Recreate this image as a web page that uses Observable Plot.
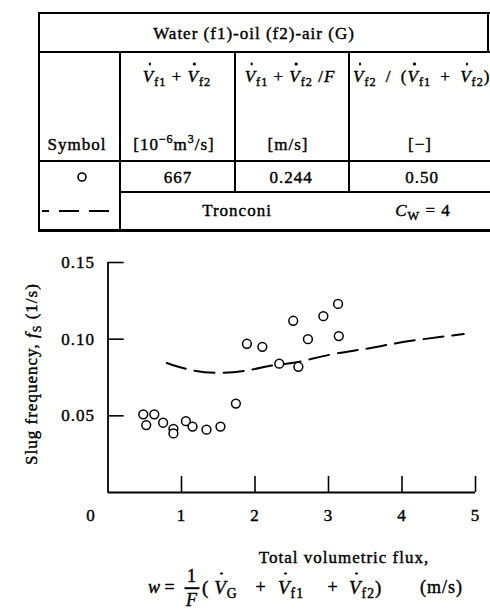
<!DOCTYPE html>
<html><head><meta charset="utf-8">
<script src="https://cdn.jsdelivr.net/npm/d3@7"></script>
<script src="https://cdn.jsdelivr.net/npm/@observablehq/plot@0.6"></script>
<style>
html,body{margin:0;padding:0;background:#fff;}
#wrap{position:relative;width:490px;height:611px;overflow:hidden;font-family:"Liberation Serif","Times New Roman",serif;color:#000;font-size:17px;}
.t{position:absolute;white-space:nowrap;transform:translate(-50%,-50%);line-height:1;letter-spacing:1px;-webkit-text-stroke:0.4px #000;}
.t.left{transform:translate(0,-50%);}
.t.wide{word-spacing:4px;}
.t.f{font-size:18px;}
.t.fv{font-size:19px;}
.l{position:absolute;background:#000;}
.v{position:relative;font-style:italic;}
.v::before{content:"";position:absolute;left:50%;top:-0.22em;width:2.6px;height:2.6px;border-radius:50%;background:#000;}
sub{font-size:0.72em;vertical-align:-0.35em;line-height:0;}
sup{font-size:0.7em;vertical-align:0.55em;line-height:0;}
.frac{display:inline-flex;flex-direction:column;align-items:center;line-height:1;}
.frac .bar{width:15px;height:1.6px;background:#000;margin:2px 0;}
#plot{position:absolute;left:0;top:240px;}
#plot svg text{stroke:#000;stroke-width:0.4px;letter-spacing:1px;}
</style></head><body>
<div id="wrap"><div id="plot"></div></div>
<script>
// ---- data ----
const waterX = [0.48, 0.63, 0.52, 0.75, 0.89, 0.89, 1.06, 1.15, 1.34, 1.53, 1.74, 1.89, 2.10, 2.33, 2.52, 2.59, 2.72, 2.93, 3.13, 3.14];
const waterY = [0.051, 0.051, 0.044, 0.0455, 0.0415, 0.0385, 0.0465, 0.043, 0.041, 0.043, 0.058, 0.097, 0.095, 0.084, 0.112, 0.082, 0.100, 0.115, 0.123, 0.102];
const tronconiX = [0.80, 1.12, 1.53, 1.94, 2.26, 2.57, 3.03, 3.48, 3.88, 4.29, 4.84];
const tronconiY = [0.0845, 0.080, 0.078, 0.080, 0.083, 0.085, 0.090, 0.0935, 0.097, 0.100, 0.1033];
const xTicks = [1, 2, 3, 4, 5];
const xTickLabels = ["1", "2", "3", "4", "5"];
const originLabel = ["0"];
const yTicks = [0.05, 0.10, 0.15];
const yTickLabels = ["0.05", "0.10", "0.15"];
const tableTitle = "Water (f1)-oil (f2)-air (G)";
const rowValues = ["667", "0.244", "0.50"];
const unitLabels = ["[10<sup>\u22126</sup>m<sup>3</sup>/s]", "[m/s]", "[\u2212]"];
const modelName = "Tronconi";
const modelParam = "4";

// ---- helpers ----
const wrap = document.getElementById("wrap");
const V = s => `<span class="v">V</span><sub>${s}</sub>`;
function line(x, y, w, h) {
  const d = document.createElement("div");
  d.className = "l";
  Object.assign(d.style, {left: x + "px", top: y + "px", width: w + "px", height: h + "px"});
  wrap.appendChild(d);
}
function text(html, x, y, cls = "") {
  const d = document.createElement("div");
  d.className = "t " + cls;
  d.innerHTML = html;
  d.style.left = x + "px";
  d.style.top = y + "px";
  wrap.appendChild(d);
  return d;
}

// ---- table ----
line(38, 12, 452, 2);
line(38, 51, 452, 2);
line(38, 160, 452, 2);
line(119, 191, 371, 2);
line(38, 229, 452, 2.5);
line(38, 12, 2, 219.5);
line(487, 12, 2, 41);
line(119, 52, 2, 178);
line(234, 52, 2, 140);
line(348, 52, 2, 140);

text(tableTitle, 254, 33);
text(`${V("f1")} + ${V("f2")}`, 177, 76);
text(`${V("f1")} + ${V("f2")} /<i>F</i>`, 290, 76);
text(`${V("f2")} / (${V("f1")} + ${V("f2")})`, 353, 76, "left wide");
text("Symbol", 77, 144);
text(unitLabels[0], 174, 144);
text(unitLabels[1], 288, 144);
text(unitLabels[2], 420, 144);
text(`<svg width="12" height="12" style="display:block"><circle cx="6" cy="6" r="4" fill="none" stroke="#000" stroke-width="1.6"/></svg>`, 82, 177);
text(rowValues[0], 178, 177);
text(rowValues[1], 291, 177);
text(rowValues[2], 422, 177);
text(`<svg width="72" height="6" style="display:block"><line x1="0" y1="3" x2="72" y2="3" stroke="#000" stroke-width="2" stroke-dasharray="7,10,20,10,20,10"/></svg>`, 78, 211);
text(modelName, 237, 210);
text(`<i>C</i><sub>W</sub> = ${modelParam}`, 423, 210);

// ---- axis titles ----
const yl = text(`Slug frequency, <i>f</i><sub>S</sub> (1/s)`, 31, 374);
yl.style.transform = "translate(-50%,-50%) rotate(-90deg)";
text("Total volumetric flux,", 344, 557);
// formula, laid out piece by piece with the wide spacing of the original
const fy = 587;
text(`<i>w</i>`, 148, fy, "left f");
text(`=`, 170, fy, "f");
text(`<span class="frac"><span>1</span><span class="bar"></span><span><i>F</i></span></span>`, 192, fy + 1, "f");
text(`(&thinsp;${V("G")}`, 202, fy, "left fv");
text(`+`, 261, fy, "f");
text(V("f1"), 278, fy, "left fv");
text(`+`, 333, fy, "f");
text(`${V("f2")})`, 349, fy, "left fv");
text(`(m/s)`, 420, fy, "left f");

// ---- chart ----
const pts = waterX.map((x, i) => ({x, y: waterY[i]}));
const curve = tronconiX.map((x, i) => ({x, y: tronconiY[i]}));
const chart = Plot.plot({
  width: 490, height: 371,
  marginTop: 22, marginBottom: 119, marginLeft: 107.5, marginRight: 15,
  x: {domain: [0, 5]},
  y: {domain: [0, 0.15]},
  style: {fontFamily: "'Liberation Serif', 'Times New Roman', serif", fontSize: "17px", color: "#000", background: "transparent", overflow: "visible"},
  marks: [
    Plot.ruleX([0], {y1: 0, y2: 0.15, strokeWidth: 1.8}),
    Plot.ruleY([0], {x1: 0, x2: 5, strokeWidth: 1.8}),
    Plot.ruleY(yTicks, {x1: 0, x2: 0.22, strokeWidth: 1.6}),
    Plot.ruleX(xTicks, {y1: 0, y2: 0.0105, strokeWidth: 1.6}),
    Plot.axisY(yTicks, {tickSize: 0, tickPadding: 13, tickFormat: d => yTickLabels[yTicks.indexOf(d)], label: null}),
    Plot.axisX(xTicks, {tickSize: 0, tickPadding: 16, tickFormat: d => xTickLabels[xTicks.indexOf(d)], label: null}),
    Plot.text(originLabel, {x: () => 0, y: () => 0, text: d => d, dx: -17, dy: 16, lineAnchor: "top"}),
    Plot.line(curve, {x: "x", y: "y", curve: "natural", stroke: "#000", strokeWidth: 2, strokeDasharray: "20,9"}),
    Plot.dot(pts, {x: "x", y: "y", r: 4.4, stroke: "#000", strokeWidth: 1.5, fill: "#fff"})
  ]
});
document.getElementById("plot").appendChild(chart);
</script>
</body></html>
